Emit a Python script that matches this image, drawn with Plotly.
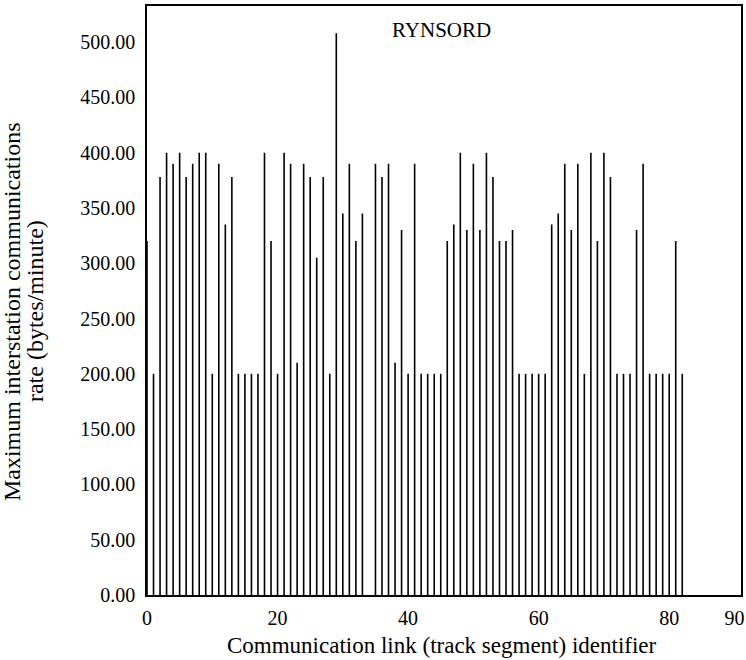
import plotly.graph_objects as go

link_ids = list(range(83))
max_rates = [
    320, 200, 378, 400, 390, 400, 378, 390, 400, 400,
    200, 390, 335, 378, 200, 200, 200, 200, 400, 320,
    200, 400, 390, 210, 390, 378, 305, 378, 200, 508,
    345, 390, 320, 345, 0, 390, 378, 390, 210, 330,
    200, 390, 200, 200, 200, 200, 320, 335, 400, 330,
    390, 330, 400, 378, 320, 320, 330, 200, 200, 200,
    200, 200, 335, 345, 390, 330, 390, 200, 400, 320,
    400, 378, 200, 200, 200, 330, 390, 200, 200, 200,
    200, 320, 200,
]
x_ticks = [0, 20, 40, 60, 80, 90]
y_ticks = [0, 50, 100, 150, 200, 250, 300, 350, 400, 450, 500]
title_text = "RYNSORD"
x_title = "Communication link (track segment) identifier"
y_title_lines = ["Maximum interstation communications", "rate (bytes/minute)"]

xs, ys = [], []
for i, v in zip(link_ids, max_rates):
    xs += [i, i, None]
    ys += [0, v, None]

fig = go.Figure()
fig.add_trace(go.Scatter(x=xs, y=ys, mode="lines",
                         line=dict(color="black", width=1.6),
                         hoverinfo="skip", showlegend=False))

font_family = "Liberation Serif, DejaVu Serif, serif"
fig.update_layout(
    width=746, height=660,
    margin=dict(l=147, r=5, t=6, b=65),
    paper_bgcolor="white", plot_bgcolor="white",
    font=dict(family=font_family, size=20, color="black"),
    showlegend=False,
    xaxis=dict(range=[0, 91], tickvals=x_ticks, showgrid=False, zeroline=False,
               showline=True, linecolor="black", linewidth=1.5, mirror=True,
               ticks="outside", ticklen=4, tickcolor="rgba(0,0,0,0)",
               tickfont=dict(size=20), automargin=False),
    yaxis=dict(range=[0, 532.6], tickvals=y_ticks, tickformat=".2f",
               showgrid=False, zeroline=False,
               showline=True, linecolor="black", linewidth=1.5, mirror=True,
               ticks="outside", ticklen=6, tickcolor="rgba(0,0,0,0)",
               tickfont=dict(size=20), automargin=False),
    annotations=[
        dict(text=title_text, xref="paper", yref="paper",
             x=0.495, y=0.959, xanchor="center", yanchor="middle",
             showarrow=False, font=dict(size=21)),
        dict(text=x_title, xref="paper", yref="paper",
             x=0.497, y=-0.085, xanchor="center", yanchor="middle",
             showarrow=False, font=dict(size=23)),
        dict(text=y_title_lines[0], xref="paper", yref="paper",
             x=-0.2273, y=0.482, xanchor="center", yanchor="middle",
             textangle=-90, showarrow=False, font=dict(size=24)),
        dict(text=y_title_lines[1], xref="paper", yref="paper",
             x=-0.1886, y=0.482, xanchor="center", yanchor="middle",
             textangle=-90, showarrow=False, font=dict(size=24)),
    ],
)

fig.write_html("out.html",
               config={"displayModeBar": False},
               post_script="document.body.style.margin='0';document.body.style.padding='0';")
